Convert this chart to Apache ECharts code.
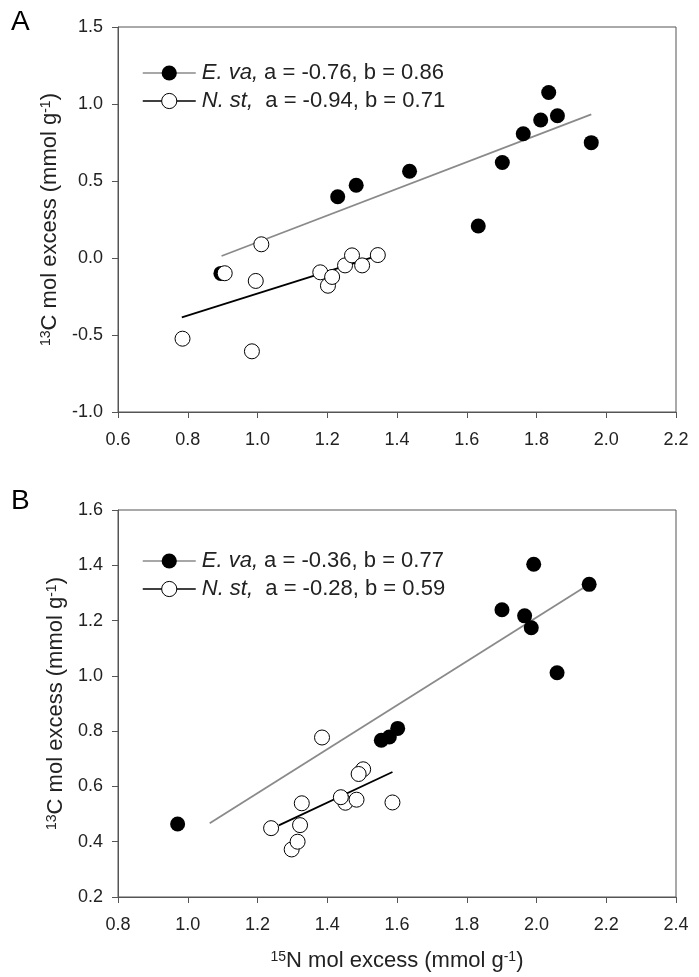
<!DOCTYPE html>
<html><head><meta charset="utf-8">
<script src="https://cdn.jsdelivr.net/npm/echarts@6/dist/echarts.min.js"></script>
<style>html,body{margin:0;padding:0;background:#fff}#c{width:699px;height:977px}</style>
</head><body><div id="c"></div>
<script>
// ---------- Panel A data ----------
const xTicksA = [0.6, 0.8, 1.0, 1.2, 1.4, 1.6, 1.8, 2.0, 2.2];
const yTicksA = [-1.0, -0.5, 0.0, 0.5, 1.0, 1.5];
const evaA_x = [0.895, 1.230, 1.283, 1.436, 1.633, 1.702, 1.762, 1.812, 1.835, 1.860, 1.957];
const evaA_y = [-0.100, 0.398, 0.472, 0.563, 0.208, 0.620, 0.807, 0.896, 1.075, 0.924, 0.749];
const nstA_x = [0.785, 0.906, 0.984, 0.995, 1.011, 1.180, 1.202, 1.214, 1.251, 1.271, 1.300, 1.345];
const nstA_y = [-0.524, -0.099, -0.606, -0.149, 0.089, -0.093, -0.180, -0.123, -0.048, 0.017, -0.048, 0.019];
const evaFitA_x = [0.897, 1.957];
const evaFitA_y = [0.013, 0.933];
const nstFitA_x = [0.783, 1.345];
const nstFitA_y = [-0.385, 0.015];
const legendA = ['E. va, a = -0.76, b = 0.86', 'N. st,  a = -0.94, b = 0.71'];

// ---------- Panel B data ----------
const xTicksB = [0.8, 1.0, 1.2, 1.4, 1.6, 1.8, 2.0, 2.2, 2.4];
const yTicksB = [0.2, 0.4, 0.6, 0.8, 1.0, 1.2, 1.4, 1.6];
const evaB_x = [0.971, 1.555, 1.578, 1.602, 1.901, 1.966, 1.985, 1.992, 2.059, 2.151];
const evaB_y = [0.464, 0.767, 0.779, 0.810, 1.239, 1.217, 1.174, 1.404, 1.011, 1.331];
const nstB_x = [1.239, 1.298, 1.315, 1.322, 1.327, 1.385, 1.452, 1.439, 1.484, 1.503, 1.490, 1.587];
const nstB_y = [0.449, 0.372, 0.400, 0.460, 0.539, 0.777, 0.541, 0.561, 0.552, 0.662, 0.645, 0.542];
const evaFitB_x = [1.063, 2.151];
const evaFitB_y = [0.467, 1.331];
const nstFitB_x = [1.261, 1.587];
const nstFitB_y = [0.459, 0.652];
const legendB = ['E. va, a = -0.36, b = 0.77', 'N. st,  a = -0.28, b = 0.59'];

const yTitle = '{sup|13}C mol excess (mmol g{sup|-1})';
const xTitle = '{sup|15}N mol excess (mmol g{sup|-1})';

// ---------- build ----------
const FONT = 'Liberation Sans, Arial, sans-serif';
const AXC = '#555';
const pairs = (xs, ys) => xs.map((x, i) => [x, ys[i]]);
const supRich = { sup: { fontSize: 14, lineHeight: 14, verticalAlign: 'top', fontFamily: FONT, color: '#222' } };

function xAxisCfg(ticks, gridIndex, title) {
  return {
    type: 'value', gridIndex,
    min: ticks[0], max: ticks[ticks.length - 1], interval: +(ticks[1] - ticks[0]).toFixed(6),
    axisLine: { show: true, onZero: false, lineStyle: { color: AXC, width: 1 } },
    axisTick: { show: true, length: 6, lineStyle: { color: AXC } },
    splitLine: { show: false },
    axisLabel: { fontSize: 18, color: '#222', fontFamily: FONT, margin: 19, formatter: v => v.toFixed(1) },
    name: title || '', nameLocation: 'middle', nameGap: 53,
    nameTextStyle: { fontSize: 22, color: '#222', fontFamily: FONT, rich: supRich }
  };
}
function yAxisCfg(ticks, gridIndex) {
  return {
    type: 'value', gridIndex,
    min: ticks[0], max: ticks[ticks.length - 1], interval: +(ticks[1] - ticks[0]).toFixed(6),
    axisLine: { show: true, onZero: false, lineStyle: { color: AXC, width: 1 } },
    axisTick: { show: true, length: 6, lineStyle: { color: AXC } },
    splitLine: { show: false },
    axisLabel: { fontSize: 18, color: '#222', fontFamily: FONT, margin: 15, formatter: v => v.toFixed(1) },
    name: yTitle, nameLocation: 'middle', nameGap: 46, nameRotate: 90,
    nameTextStyle: { fontSize: 22, color: '#222', fontFamily: FONT, rich: supRich }
  };
}

function legendCfg(names, top) {
  const fmt = n => {
    const k = n.indexOf(',');
    return '{i|' + n.slice(0, k + 1) + '}' + n.slice(k + 1);
  };
  return {
    orient: 'vertical', left: 137, top, itemWidth: 53, itemHeight: 19, itemGap: 6,
    selectedMode: false,
    data: [
      { name: names[0], itemStyle: { color: '#000', borderWidth: 0 }, lineStyle: { color: '#8a8a8a', width: 1.5 } },
      { name: names[1], itemStyle: { color: '#fff', borderColor: '#000', borderWidth: 1 }, lineStyle: { color: '#000', width: 1.5 } }
    ],
    formatter: fmt,
    textStyle: {
      fontSize: 22, color: '#222', fontFamily: FONT, padding: [0, 0, 0, 1],
      rich: { i: { fontSize: 22, fontStyle: 'italic', color: '#222', fontFamily: FONT } }
    }
  };
}

function panelSeries(gi, ex, ey, nx, ny, efx, efy, nfx, nfy, names) {
  return [
    { type: 'line', xAxisIndex: gi, yAxisIndex: gi, data: pairs(efx, efy), symbol: 'none', silent: true,
      lineStyle: { color: '#8a8a8a', width: 1.8 }, z: 1 },
    { type: 'line', xAxisIndex: gi, yAxisIndex: gi, data: pairs(nfx, nfy), symbol: 'none', silent: true,
      lineStyle: { color: '#000', width: 1.8 }, z: 1 },
    { type: 'scatter', xAxisIndex: gi, yAxisIndex: gi, data: pairs(ex, ey), symbol: 'circle', symbolSize: 15,
      itemStyle: { color: '#000', opacity: 1 }, z: 2 },
    { type: 'scatter', xAxisIndex: gi, yAxisIndex: gi, data: pairs(nx, ny), symbol: 'circle', symbolSize: 15,
      itemStyle: { color: '#fff', borderColor: '#000', borderWidth: 1, opacity: 1 }, z: 3 },
    // legend-only series
    { name: names[0], type: 'line', xAxisIndex: gi, yAxisIndex: gi, data: [], symbol: 'circle', symbolSize: 15,
      lineStyle: { color: '#8a8a8a', width: 1.5 }, itemStyle: { color: '#000' } },
    { name: names[1], type: 'line', xAxisIndex: gi, yAxisIndex: gi, data: [], symbol: 'circle', symbolSize: 15,
      lineStyle: { color: '#000', width: 1.5 }, itemStyle: { color: '#fff', borderColor: '#000', borderWidth: 1 } }
  ];
}

const chart = echarts.init(document.getElementById('c'), null, { renderer: 'canvas' });
chart.setOption({
  animation: false,
  backgroundColor: '#fff',
  title: [
    { text: 'A', left: 11, top: 8, padding: 0, textStyle: { fontSize: 28, fontWeight: 'normal', color: '#000', fontFamily: FONT } },
    { text: 'B', left: 11, top: 487, padding: 0, textStyle: { fontSize: 28, fontWeight: 'normal', color: '#000', fontFamily: FONT } }
  ],
  grid: [
    { left: 118, top: 27, width: 558, height: 385, show: true, borderColor: AXC, borderWidth: 1, containLabel: false },
    { left: 118, top: 510, width: 558, height: 387, show: true, borderColor: AXC, borderWidth: 1, containLabel: false }
  ],
  xAxis: [xAxisCfg(xTicksA, 0, ''), xAxisCfg(xTicksB, 1, xTitle)],
  yAxis: [yAxisCfg(yTicksA, 0), yAxisCfg(yTicksB, 1)],
  legend: [legendCfg(legendA, 57), legendCfg(legendB, 545)],
  series: [].concat(
    panelSeries(0, evaA_x, evaA_y, nstA_x, nstA_y, evaFitA_x, evaFitA_y, nstFitA_x, nstFitA_y, legendA),
    panelSeries(1, evaB_x, evaB_y, nstB_x, nstB_y, evaFitB_x, evaFitB_y, nstFitB_x, nstFitB_y, legendB)
  )
});
</script></body></html>
